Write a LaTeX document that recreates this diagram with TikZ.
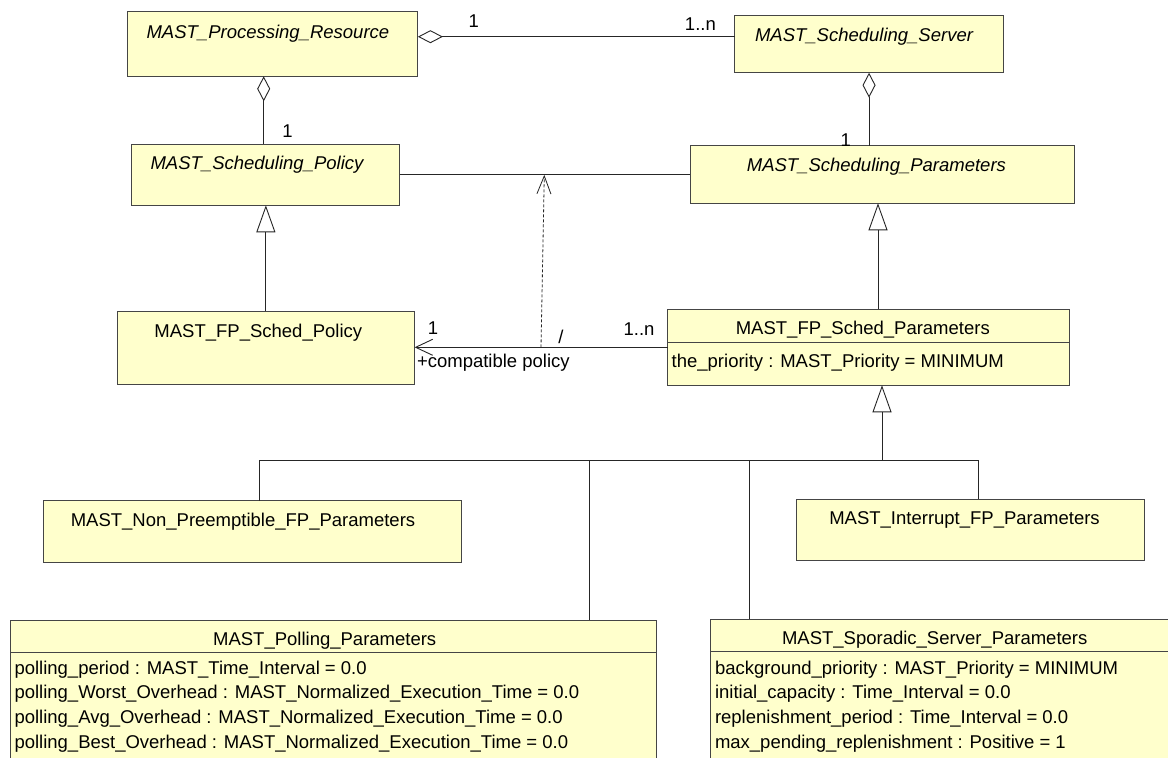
\documentclass[tikz,border=0pt]{standalone}
\usepackage{fontspec}
\setmainfont{Liberation Sans}
\usetikzlibrary{arrows.meta,calc}
\definecolor{classfill}{HTML}{FFFFCC}
\definecolor{edgegray}{HTML}{454545}
\begin{document}
\begin{tikzpicture}[x=1pt,y=-1pt,
  every node/.style={inner sep=0pt, outer sep=0pt},
  txt/.style={font=\fontsize{18.5}{24}\selectfont, text=black},
  abstract/.style={font=\fontsize{18.5}{24}\selectfont\itshape, text=black},
  cls/.style={draw=edgegray, fill=classfill, line width=1pt, rectangle},
  sep/.style={draw=edgegray, line width=1pt},
  link/.style={draw=black!85, line width=0.9pt},
  aggr/.style={link, {Diamond[open,length=25pt,width=13pt]}-},
  gen/.style={link, -{Triangle[open,length=27pt,width=19pt]}},
  nav/.style={link, -{Straight Barb[length=17pt,width=16pt]}},
  dep/.style={draw=black!85, line width=0.8pt, dash pattern=on 3pt off 2pt,
              -{Straight Barb[length=18pt,width=14pt]}},
]
\clip (0,0) rectangle (1168,758);
\fill[white] (0,0) rectangle (1168,758);

% ---- class boxes ----
\node[cls, anchor=north west, minimum width=290.5pt, minimum height=64.6pt] (pr)   at (127.4,11.7) {};
\node[cls, anchor=north west, minimum width=268.3pt, minimum height=57pt]   (ss)   at (734.9,15.7) {};
\node[cls, anchor=north west, minimum width=268.2pt, minimum height=61pt]   (sp)   at (131.3,144.3) {};
\node[cls, anchor=north west, minimum width=383.8pt, minimum height=57.6pt] (spar) at (690.3,145.7) {};
\node[cls, anchor=north west, minimum width=297.5pt, minimum height=73pt]   (fpp)  at (117.1,311) {};
\node[cls, anchor=north west, minimum width=402.1pt, minimum height=76pt]   (fpsp) at (667.8,309.3) {};
\node[cls, anchor=north west, minimum width=417.6pt, minimum height=61.6pt] (np)   at (43.6,500.7) {};
\node[cls, anchor=north west, minimum width=348.3pt, minimum height=61.4pt] (ifp)  at (796.4,499.3) {};
\node[cls, anchor=north west, minimum width=646.4pt, minimum height=160pt]  (poll) at (10.3,620) {};
\node[cls, anchor=north west, minimum width=480pt,   minimum height=160pt]  (spor) at (710.9,619) {};

% compartment separators
\draw[sep] (fpsp.west |- 0,342)   -- (fpsp.east |- 0,342);
\draw[sep] (poll.west |- 0,652.3) -- (poll.east |- 0,652.3);
\draw[sep] (spor.west |- 0,651.7) -- (spor.east |- 0,651.7);

% ---- class names ----
\node[abstract, anchor=base] (prN)   at (267.9,38)   {MAST\_Processing\_Resource};
\node[abstract, anchor=base] (ssN)   at (864,41.3)   {MAST\_Scheduling\_Server};
\node[abstract, anchor=base] (spN)   at (257,169.3)  {MAST\_Scheduling\_Policy};
\node[abstract, anchor=base] (sparN) at (876.4,171)  {MAST\_Scheduling\_Parameters};
\node[txt, anchor=base] (fppN)  at (258.3,337.3) {MAST\_FP\_Sched\_Policy};
\node[txt, anchor=base] (fpspN) at (862.8,334.3) {MAST\_FP\_Sched\_Parameters};
\node[txt, anchor=base] (npN)   at (243,526)     {MAST\_Non\_Preemptible\_FP\_Parameters};
\node[txt, anchor=base] (ifpN)  at (964.5,524.7) {MAST\_Interrupt\_FP\_Parameters};
\node[txt, anchor=base] (pollN) at (324.7,645)   {MAST\_Polling\_Parameters};
\node[txt, anchor=base] (sporN) at (934.7,644)   {MAST\_Sporadic\_Server\_Parameters};

% ---- attributes ----
\node[txt, anchor=base west] (fpspA) at (671.7,367.3) {the\_priority : MAST\_Priority = MINIMUM};
\node[txt, anchor=base west] (pollA1) at (14.5,674)   {polling\_period : MAST\_Time\_Interval = 0.0};
\node[txt, anchor=base west] (pollA2) at (14.5,698.8) {polling\_Worst\_Overhead : MAST\_Normalized\_Execution\_Time = 0.0};
\node[txt, anchor=base west] (pollA3) at (14.5,723.6) {polling\_Avg\_Overhead : MAST\_Normalized\_Execution\_Time = 0.0};
\node[txt, anchor=base west] (pollA4) at (14.5,748.4) {polling\_Best\_Overhead : MAST\_Normalized\_Execution\_Time = 0.0};
\node[txt, anchor=base west] (sporA1) at (715,674)     {background\_priority : MAST\_Priority = MINIMUM};
\node[txt, anchor=base west] (sporA2) at (715,698.8)   {initial\_capacity : Time\_Interval = 0.0};
\node[txt, anchor=base west] (sporA3) at (715,723.6)   {replenishment\_period : Time\_Interval = 0.0};
\node[txt, anchor=base west] (sporA4) at (715,748.4)   {max\_pending\_replenishment : Positive = 1};

% ---- aggregations ----
\coordinate (a1) at ($(pr.north east)+(0,25)$);
\draw[aggr] (a1) -- (a1 -| ss.west);
\coordinate (a2) at (263.7,0);
\draw[aggr] (a2 |- pr.south) -- (a2 |- sp.north);
\draw[aggr] (ss.south) -- (ss.south |- spar.north);

% ---- association between policy and parameters ----
\draw[link] (sp.east) -- (sp.east -| spar.west);

% ---- navigable association with derived dependency ----
\draw[nav] (fpsp.west) -- (fpsp.west -| fpp.east);
\coordinate (d1) at (541,347.3);
\coordinate (d2) at (544.3,174.8);
\draw[dep] (d1) -- (d2);

% ---- generalizations ----
\draw[gen] (fpp.north) -- (fpp.north |- sp.south);
\coordinate (g1) at (878,0);
\draw[gen] (g1 |- fpsp.north) -- (g1 |- spar.south);

\coordinate (b0) at (259.5,460.7);
\coordinate (b1) at (589.3,460.7);
\coordinate (b2) at (749.9,460.7);
\coordinate (b3) at (882,460.7);
\coordinate (b4) at (978.6,460.7);
\draw[link] (b0 |- np.north) -- (b0) -- (b4) -- (b4 |- ifp.north);
\draw[link] (b1) -- (b1 |- poll.north);
\draw[link] (b2) -- (b2 |- spor.north);
\draw[gen] (b3) -- (b3 |- fpsp.south);

% ---- multiplicities and role names ----
\node[txt, anchor=base] (m1) at (473.7,27.3)  {1};
\node[txt, anchor=base] (m2) at (700.4,30.7)  {1..n};
\node[txt, anchor=base] (m3) at (287.4,137.7) {1};
\node[txt, anchor=base] (m4) at (845.8,146.2) {1};
\node[txt, anchor=base] (m5) at (433,334)     {1};
\node[txt, anchor=base] (m6) at (639,335.7)   {1..n};
\node[txt, anchor=base] (der) at (561,343.3)  {/};
\node[txt, anchor=base west] (role) at (417,367) {+compatible policy};
\end{tikzpicture}
\end{document}
